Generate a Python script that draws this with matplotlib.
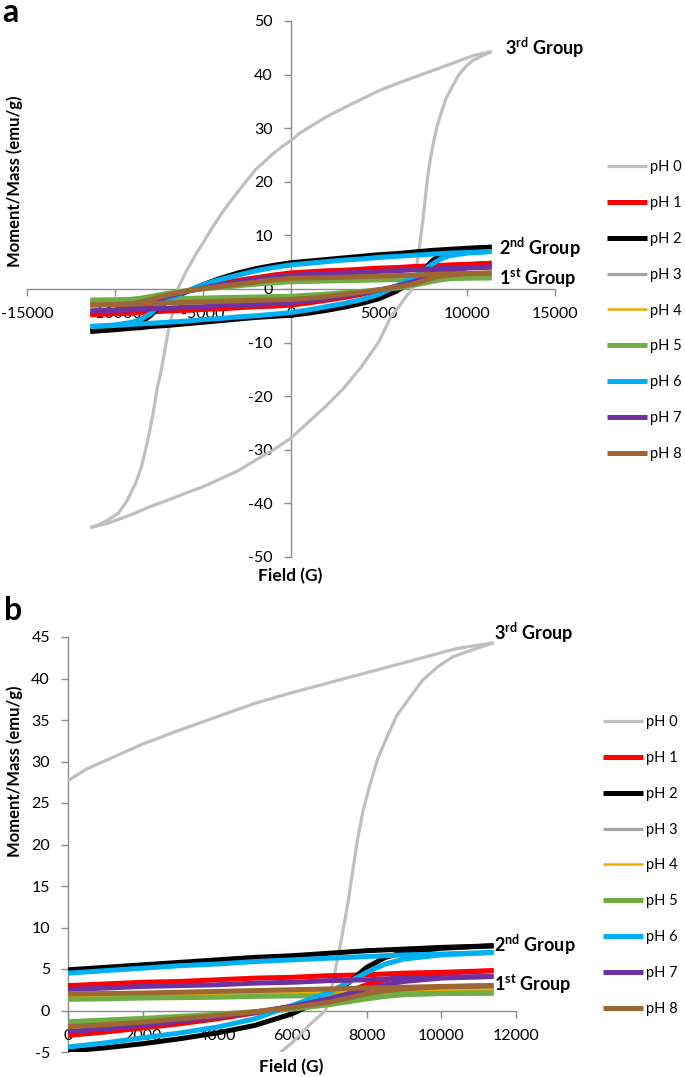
import matplotlib
matplotlib.use("Agg")
import matplotlib.pyplot as plt

plt.rcParams['font.family'] = ['Lato', 'DejaVu Sans']
plt.rcParams['mathtext.fontset'] = 'custom'
plt.rcParams['mathtext.rm'] = 'Lato'
plt.rcParams['mathtext.bf'] = 'Lato:bold'

# ---------------- data ----------------
labels = ['pH 0', 'pH 1', 'pH 2', 'pH 3', 'pH 4', 'pH 5', 'pH 6', 'pH 7', 'pH 8']
colors = ['#BFBFBF', '#FF0000', '#000000', '#A5A5A5', '#E8AE00',
          '#70AD47', '#00B0F0', '#7030A0', '#9C6733']
widths = [2.3, 3.6, 3.6, 2.3, 1.8, 3.6, 3.6, 3.6, 3.6]

# pH 0 branches (own field grids)
ph0_desc_H = [11400, 10400, 9000, 8000, 7000, 6000, 5000, 4000, 3000, 2000, 1000, 500, 0,
              -500, -1000, -1500, -2000, -2500, -3000, -3500, -4000, -4500, -5000, -5350,
              -5700, -6000, -6440, -6700, -7000, -7200, -7400, -7600, -7800, -8050, -8300,
              -8500, -8800, -9300, -9800, -10400, -10900, -11400]
ph0_desc_M = [44.3, 43.6, 41.9, 40.7, 39.5, 38.3, 37.0, 35.4, 33.8, 32.1, 30.1, 29.1, 27.7,
              26.6, 25.3, 23.8, 22.3, 20.3, 18.2, 16.1, 13.8, 11.3, 8.6, 6.8,
              4.8, 3.0, 0.0, -4.0, -8.3, -12.0, -15.6, -18.5, -22.5, -26.9, -30.5,
              -33.2, -36.0, -39.4, -41.8, -43.1, -44.0, -44.5]
ph0_asc_H = [-11400, -10400, -9000, -8000, -7000, -6000, -5000, -4000, -3000, -2000, -1000,
             0, 1000, 2000, 3000, 4000, 5000, 5700, 6000, 6500, 6900, 7100, 7300, 7500,
             7750, 7900, 8100, 8300, 8550, 8800, 9170, 9500, 9900, 10300, 10800, 11400]
ph0_asc_M = [-44.5, -43.7, -42.0, -40.6, -39.4, -38.1, -36.9, -35.4, -33.9, -31.9, -30.0,
             -27.8, -24.8, -21.8, -18.5, -14.5, -9.8, -5.0, -3.9, -1.6, 0.0, 3.5, 8.0, 13.0,
             20.5, 24.0, 27.4, 30.4, 33.0, 35.5, 37.8, 39.8, 41.4, 42.6, 43.4, 44.3]

# common field grids for pH 1-8
desc_H = [11400, 10000, 9000, 8000, 7000, 6000, 5000, 4000, 3000, 2000, 1000, 0,
          -1000, -2000, -3000, -4000, -5000, -6000, -7000, -7500, -8000, -8500, -9000,
          -10000, -11400]
asc_H = [-11400, -10000, -9000, -8500, -8000, -7500, -7000, -6000, -5000, -4000, -3000,
         -2000, -1000, 0, 1000, 2000, 3000, 4000, 5000, 6000, 7000, 7500, 8000, 8500,
         9000, 10000, 11400]

ph1_desc = [4.8, 4.6, 4.5, 4.3, 4.2, 4.0, 3.9, 3.7, 3.5, 3.4, 3.2, 3.0,
            2.6, 2.1, 1.6, 1.0, 0.3, -0.5, -1.6, -2.3, -3.1, -3.7, -4.1, -4.5, -4.8]
ph1_asc = [-4.8, -4.6, -4.5, -4.4, -4.3, -4.2, -4.1, -4.0, -3.8, -3.7, -3.5, -3.3, -3.2,
           -3.0, -2.6, -2.1, -1.6, -1.0, -0.3, 0.5, 1.6, 2.3, 3.1, 3.7, 4.1, 4.5, 4.8]

ph2_desc = [7.8, 7.6, 7.4, 7.2, 6.9, 6.6, 6.4, 6.1, 5.8, 5.5, 5.2, 4.9,
            4.4, 3.8, 3.0, 2.0, 0.8, -0.6, -2.2, -3.4, -5.0, -6.2, -6.9, -7.5, -7.9]
ph2_asc = [-7.9, -7.6, -7.3, -7.2, -7.0, -6.9, -6.8, -6.5, -6.2, -5.9, -5.6, -5.3, -5.1,
           -4.9, -4.5, -4.0, -3.4, -2.7, -1.8, -0.4, 1.7, 3.3, 5.2, 6.4, 7.0, 7.5, 7.8]

ph3_desc = [2.7, 2.6, 2.5, 2.45, 2.4, 2.3, 2.2, 2.1, 2.0, 1.95, 1.9, 1.8,
            1.5, 1.15, 0.8, 0.45, 0.1, -0.35, -1.0, -1.35, -1.8, -2.15, -2.4, -2.6, -2.7]
ph3_asc = [-2.7, -2.6, -2.5, -2.48, -2.45, -2.42, -2.4, -2.3, -2.2, -2.1, -2.0, -1.95, -1.9,
           -1.8, -1.5, -1.15, -0.8, -0.45, -0.1, 0.35, 1.0, 1.35, 1.8, 2.15, 2.4, 2.6, 2.7]

ph4_desc = [2.5, 2.4, 2.35, 2.3, 2.2, 2.15, 2.1, 2.0, 1.9, 1.85, 1.8, 1.7,
            1.45, 1.1, 0.75, 0.4, 0.05, -0.35, -0.9, -1.25, -1.65, -2.0, -2.25, -2.4, -2.5]
ph4_asc = [-2.5, -2.4, -2.35, -2.32, -2.3, -2.25, -2.2, -2.15, -2.1, -2.0, -1.9, -1.85, -1.8,
           -1.7, -1.45, -1.1, -0.75, -0.4, -0.05, 0.35, 0.9, 1.25, 1.65, 2.0, 2.25, 2.4, 2.5]

ph5_desc = [2.1, 2.05, 2.0, 1.9, 1.8, 1.75, 1.7, 1.6, 1.55, 1.5, 1.4, 1.35,
            1.15, 0.9, 0.6, 0.3, 0.0, -0.35, -0.8, -1.1, -1.4, -1.7, -1.9, -2.05, -2.1]
ph5_asc = [-2.1, -2.05, -2.0, -1.95, -1.9, -1.85, -1.8, -1.75, -1.7, -1.6, -1.55, -1.5, -1.4,
           -1.35, -1.15, -0.95, -0.7, -0.45, -0.15, 0.15, 0.7, 1.05, 1.4, 1.7, 1.9, 2.05, 2.1]

ph6_desc = [7.0, 6.8, 6.7, 6.5, 6.3, 6.1, 5.9, 5.6, 5.4, 5.1, 4.8, 4.5,
            4.0, 3.4, 2.6, 1.8, 0.8, -0.5, -2.0, -3.2, -4.6, -5.6, -6.2, -6.7, -7.0]
ph6_asc = [-7.0, -6.8, -6.6, -6.5, -6.4, -6.3, -6.2, -6.0, -5.7, -5.5, -5.2, -5.0, -4.7,
           -4.4, -3.9, -3.3, -2.7, -2.0, -1.0, 0.6, 2.2, 3.4, 4.6, 5.6, 6.2, 6.7, 7.0]

ph7_desc = [4.1, 4.0, 3.9, 3.7, 3.6, 3.4, 3.3, 3.1, 3.0, 2.9, 2.7, 2.55,
            2.2, 1.8, 1.3, 0.8, 0.2, -0.5, -1.4, -2.0, -2.6, -3.1, -3.5, -3.9, -4.1]
ph7_asc = [-4.1, -4.0, -3.9, -3.8, -3.7, -3.65, -3.6, -3.4, -3.3, -3.1, -3.0, -2.9, -2.7,
           -2.55, -2.2, -1.8, -1.3, -0.8, -0.2, 0.5, 1.4, 2.0, 2.6, 3.1, 3.5, 3.9, 4.1]

ph8_desc = [3.0, 2.9, 2.8, 2.7, 2.6, 2.5, 2.4, 2.3, 2.2, 2.1, 2.05, 2.0,
            1.7, 1.3, 0.9, 0.5, 0.1, -0.4, -1.1, -1.5, -2.0, -2.4, -2.7, -2.9, -3.0]
ph8_asc = [-3.0, -2.9, -2.8, -2.75, -2.7, -2.65, -2.6, -2.5, -2.4, -2.3, -2.2, -2.1, -2.05,
           -1.95, -1.7, -1.4, -1.0, -0.6, -0.15, 0.35, 1.0, 1.5, 2.0, 2.4, 2.6, 2.85, 3.0]

series = [
    (ph0_desc_H, ph0_desc_M, ph0_asc_H, ph0_asc_M),
    (desc_H, ph1_desc, asc_H, ph1_asc),
    (desc_H, ph2_desc, asc_H, ph2_asc),
    (desc_H, ph3_desc, asc_H, ph3_asc),
    (desc_H, ph4_desc, asc_H, ph4_asc),
    (desc_H, ph5_desc, asc_H, ph5_asc),
    (desc_H, ph6_desc, asc_H, ph6_asc),
    (desc_H, ph7_desc, asc_H, ph7_asc),
    (desc_H, ph8_desc, asc_H, ph8_asc),
]

xticks_a = [-15000, -10000, -5000, 0, 5000, 10000, 15000]
yticks_a = [-50, -40, -30, -20, -10, 0, 10, 20, 30, 40, 50]
xticks_b = [0, 2000, 4000, 6000, 8000, 10000, 12000]
yticks_b = [-5, 0, 5, 10, 15, 20, 25, 30, 35, 40, 45]

group_texts = [r'3$^{\mathbf{rd}}$ Group', r'2$^{\mathbf{nd}}$ Group', r'1$^{\mathbf{st}}$ Group']

# ---------------- figure ----------------
W, H = 685, 1077
fig = plt.figure(figsize=(W / 100, H / 100), dpi=100)


def px_rect(x0, y0, x1, y1):
    return [x0 / W, 1 - y1 / H, (x1 - x0) / W, (y1 - y0) / H]


axis_gray = '#8C8C8C'


def style(ax, xt, yt):
    for s in ['top', 'right']:
        ax.spines[s].set_visible(False)
    ax.spines['left'].set_position(('data', 0))
    ax.spines['bottom'].set_position(('data', 0))
    for s in ['left', 'bottom']:
        ax.spines[s].set_color(axis_gray)
        ax.spines[s].set_linewidth(1.0)
        ax.spines[s].set_zorder(0.5)
    ax.set_xticks(xt)
    ax.set_yticks(yt)
    ax.set_xticklabels([str(v) for v in xt])
    ax.set_yticklabels([str(v) for v in yt])
    ax.tick_params(direction='out', length=5, width=1.0, color=axis_gray,
                   labelsize=11.5, labelcolor='black', pad=8)
    ax.patch.set_alpha(0)


def draw(ax):
    handles = []
    for (dh, dm, ah, am), c, lw, lab in zip(series, colors, widths, labels):
        l, = ax.plot(dh, dm, color=c, lw=lw, solid_joinstyle='round',
                     solid_capstyle='butt', label=lab)
        ax.plot(ah, am, color=c, lw=lw, solid_joinstyle='round', solid_capstyle='butt')
        handles.append(l)
    return handles


# panel a
axa = fig.add_axes(px_rect(27, 21, 555, 557))
ha = draw(axa)
axa.set_xlim(-15000, 15000)
axa.set_ylim(-50, 50)
style(axa, xticks_a, yticks_a)
gfs = 13
axa.text(12150, 45.0, group_texts[0], fontsize=gfs, fontweight='bold', va='center', ha='left')
axa.text(11800, 7.6, group_texts[1], fontsize=gfs, fontweight='bold', va='center', ha='left')
axa.text(11800, 2.0, group_texts[2], fontsize=gfs, fontweight='bold', va='center', ha='left')

# panel b
axb = fig.add_axes(px_rect(68, 637, 516, 1052))
hb = draw(axb)
axb.set_xlim(0, 12000)
axb.set_ylim(-5, 45)
style(axb, xticks_b, yticks_b)
axb.text(11400, 45.5, group_texts[0], fontsize=gfs, fontweight='bold', va='center', ha='left')
axb.text(11400, 7.9, group_texts[1], fontsize=gfs, fontweight='bold', va='center', ha='left')
axb.text(11400, 3.1, group_texts[2], fontsize=gfs, fontweight='bold', va='center', ha='left')

# legends
leg_kw = dict(loc='upper left', frameon=False, fontsize=10.5, handlelength=2.75,
              handletextpad=0.22, labelspacing=1.5, borderpad=0, borderaxespad=0)
fig.legend(ha, labels, bbox_to_anchor=(607 / W, 1 - 160 / H), **leg_kw)
fig.legend(hb, labels, bbox_to_anchor=(603 / W, 1 - 715 / H), **leg_kw)

# axis titles
fig.text(15 / W, 1 - 181 / H, 'Moment/Mass (emu/g)', rotation=90, fontsize=12,
         fontweight='bold', ha='center', va='center')
fig.text(15 / W, 1 - 771 / H, 'Moment/Mass (emu/g)', rotation=90, fontsize=12,
         fontweight='bold', ha='center', va='center')
fig.text(290 / W, 1 - 576 / H, 'Field (G)', fontsize=12.5, fontweight='bold',
         ha='center', va='center')
fig.text(291 / W, 1 - 1067 / H, 'Field (G)', fontsize=12.5, fontweight='bold',
         ha='center', va='center')

# panel letters
fig.text(2 / W, 1 - 13 / H, 'a', fontsize=23, fontweight='bold', ha='left', va='center')
fig.text(4 / W, 1 - 610 / H, 'b', fontsize=23, fontweight='bold', ha='left', va='center')

fig.savefig('out.png', dpi=100)
